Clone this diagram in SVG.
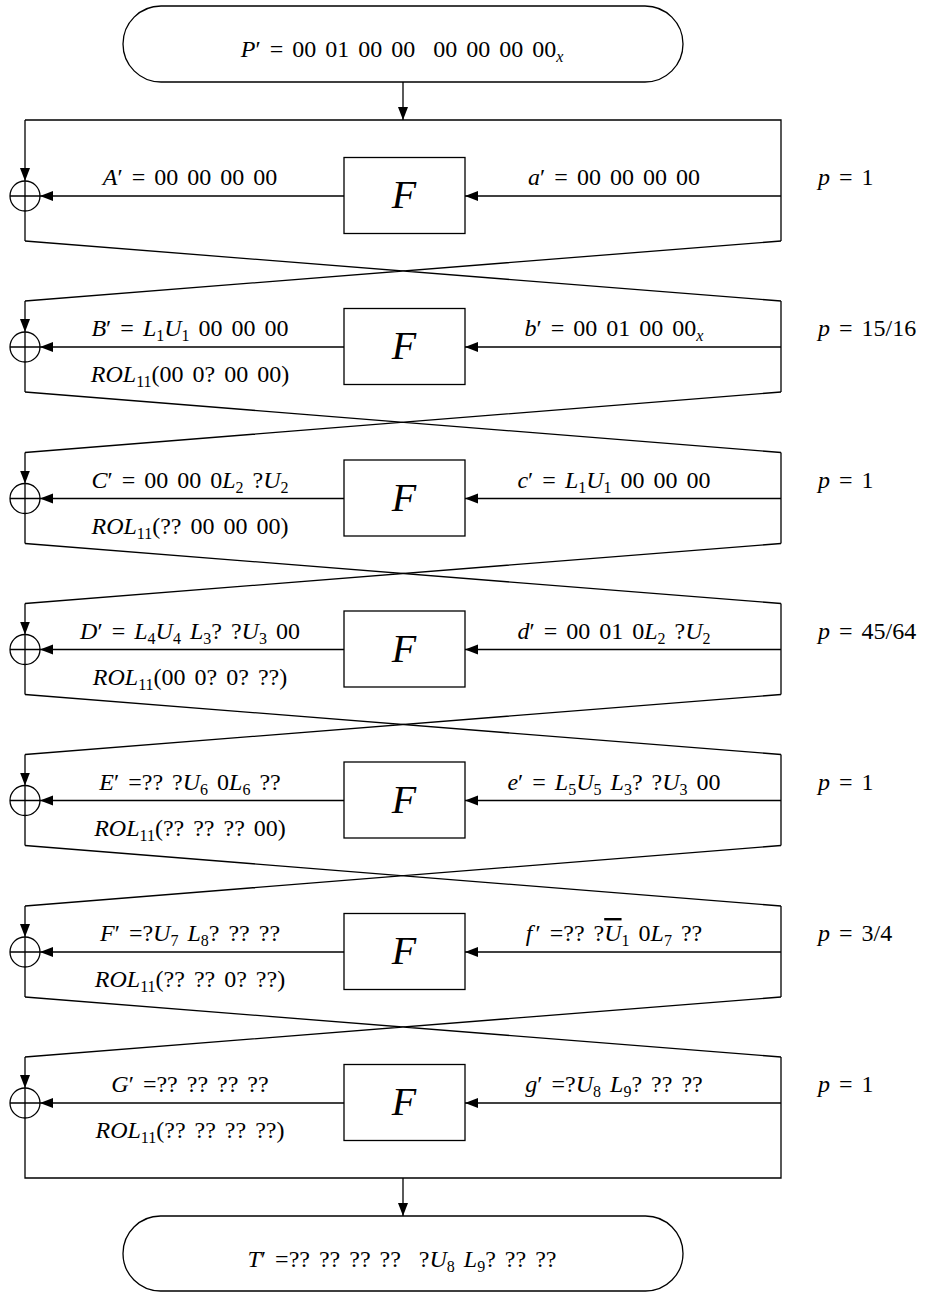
<svg xmlns="http://www.w3.org/2000/svg" width="931" height="1293" viewBox="0 0 931 1293">
<style>
.t{font-family:"Liberation Serif","DejaVu Serif",serif;font-size:24px;fill:#000;word-spacing:3px}
.m{text-anchor:middle}
.i{font-style:italic}
.s{font-size:16px}
.ln{fill:none;stroke:#000;stroke-width:1.3}
.ar{fill:none;stroke:#000;stroke-width:1.3;marker-end:url(#ah)}
.box{fill:#fff;stroke:#000;stroke-width:1.3}
.F{font-family:"Liberation Serif","DejaVu Serif",serif;font-size:40px;font-style:italic;text-anchor:middle}
</style>
<defs>
<marker id="ah" markerUnits="userSpaceOnUse" markerWidth="14" markerHeight="11" refX="13" refY="5" orient="auto">
<path d="M0,0 L13,5 L0,10 z" fill="#000"/>
</marker>
</defs>

<g id="connectors">
<path class="ar" d="M403,82 V120"/>
<path class="ln" d="M781,241 V120 H25"/>
<path class="ar" d="M25,120 V181"/>
<path class="ln" d="M25,211 V241"/>
<path class="ar" d="M781,196 H465"/>
<path class="ar" d="M344,196 H40"/>
<path class="ln" d="M25,241 L781,301 M781,241 L25,301"/>

<path class="ar" d="M25,301 V332"/>
<path class="ln" d="M25,362 V392 M781,301 V392"/>
<path class="ar" d="M781,347 H465"/>
<path class="ar" d="M344,347 H40"/>
<path class="ln" d="M25,392 L781,452.5 M781,392 L25,452.5"/>

<path class="ar" d="M25,452.5 V483.5"/>
<path class="ln" d="M25,513.5 V543.5 M781,452.5 V543.5"/>
<path class="ar" d="M781,498.5 H465"/>
<path class="ar" d="M344,498.5 H40"/>
<path class="ln" d="M25,543.5 L781,603.5 M781,543.5 L25,603.5"/>

<path class="ar" d="M25,603.5 V634.5"/>
<path class="ln" d="M25,664.5 V694.5 M781,603.5 V694.5"/>
<path class="ar" d="M781,649.5 H465"/>
<path class="ar" d="M344,649.5 H40"/>
<path class="ln" d="M25,694.5 L781,754.5 M781,694.5 L25,754.5"/>

<path class="ar" d="M25,754.5 V785.5"/>
<path class="ln" d="M25,815.5 V845.5 M781,754.5 V845.5"/>
<path class="ar" d="M781,800.5 H465"/>
<path class="ar" d="M344,800.5 H40"/>
<path class="ln" d="M25,845.5 L781,906 M781,845.5 L25,906"/>

<path class="ar" d="M25,906 V937"/>
<path class="ln" d="M25,967 V997 M781,906 V997"/>
<path class="ar" d="M781,952 H465"/>
<path class="ar" d="M344,952 H40"/>
<path class="ln" d="M25,997 L781,1057 M781,997 L25,1057"/>

<path class="ar" d="M25,1057 V1088"/>
<path class="ln" d="M25,1118 V1178 H781 V1057"/>
<path class="ar" d="M781,1103 H465"/>
<path class="ar" d="M344,1103 H40"/>
<path class="ar" d="M403,1178 V1216"/>
</g>

<g id="start">
<rect x="123" y="6" width="560" height="76" rx="38" ry="38" class="box"/>
<text x="402" y="57" class="t m" style="white-space:pre"><tspan class="i">P</tspan>′ = 00 01 00 00  00 00 00 00<tspan class="s i" dy="5">x</tspan></text>
</g>

<g id="round1">
<circle cx="25" cy="196" r="15" class="ln"/><path class="ln" d="M10,196 H40 M25,181 V211"/>
<rect x="344" y="157.5" width="121" height="76" class="box"/>
<text x="404" y="208" class="F">F</text>
<text x="190" y="185" class="t m"><tspan class="i">A</tspan>′ = 00 00 00 00</text>
<text x="614" y="185" class="t m"><tspan class="i">a</tspan>′ = 00 00 00 00</text>
<text x="818" y="185" class="t"><tspan class="i">p</tspan> = 1</text>
</g>

<g id="round2">
<circle cx="25" cy="347" r="15" class="ln"/><path class="ln" d="M10,347 H40 M25,332 V362"/>
<rect x="344" y="308.5" width="121" height="76" class="box"/>
<text x="404" y="359" class="F">F</text>
<text x="190" y="336" class="t m"><tspan class="i">B</tspan>′ = <tspan class="i">L</tspan><tspan class="s" dy="5">1</tspan><tspan class="i" dy="-5">U</tspan><tspan class="s" dy="5">1</tspan><tspan dy="-5"> 00 00 00</tspan></text>
<text x="190" y="382" class="t m"><tspan class="i">ROL</tspan><tspan class="s" dy="5">11</tspan><tspan dy="-5">(00 0? 00 00)</tspan></text>
<text x="614" y="336" class="t m"><tspan class="i">b</tspan>′ = 00 01 00 00<tspan class="s i" dy="5">x</tspan></text>
<text x="818" y="336" class="t"><tspan class="i">p</tspan> = 15/16</text>
</g>

<g id="round3">
<circle cx="25" cy="498.5" r="15" class="ln"/><path class="ln" d="M10,498.5 H40 M25,483.5 V513.5"/>
<rect x="344" y="460" width="121" height="76" class="box"/>
<text x="404" y="510.5" class="F">F</text>
<text x="190" y="487.5" class="t m"><tspan class="i">C</tspan>′ = 00 00 0<tspan class="i">L</tspan><tspan class="s" dy="5">2</tspan><tspan dy="-5"> ?</tspan><tspan class="i">U</tspan><tspan class="s" dy="5">2</tspan></text>
<text x="190" y="533.5" class="t m"><tspan class="i">ROL</tspan><tspan class="s" dy="5">11</tspan><tspan dy="-5">(?? 00 00 00)</tspan></text>
<text x="614" y="487.5" class="t m"><tspan class="i">c</tspan>′ = <tspan class="i">L</tspan><tspan class="s" dy="5">1</tspan><tspan class="i" dy="-5">U</tspan><tspan class="s" dy="5">1</tspan><tspan dy="-5"> 00 00 00</tspan></text>
<text x="818" y="487.5" class="t"><tspan class="i">p</tspan> = 1</text>
</g>

<g id="round4">
<circle cx="25" cy="649.5" r="15" class="ln"/><path class="ln" d="M10,649.5 H40 M25,634.5 V664.5"/>
<rect x="344" y="611" width="121" height="76" class="box"/>
<text x="404" y="661.5" class="F">F</text>
<text x="190" y="638.5" class="t m"><tspan class="i">D</tspan>′ = <tspan class="i">L</tspan><tspan class="s" dy="5">4</tspan><tspan class="i" dy="-5">U</tspan><tspan class="s" dy="5">4</tspan><tspan class="i" dy="-5"> L</tspan><tspan class="s" dy="5">3</tspan><tspan dy="-5">? ?</tspan><tspan class="i">U</tspan><tspan class="s" dy="5">3</tspan><tspan dy="-5"> 00</tspan></text>
<text x="190" y="684.5" class="t m"><tspan class="i">ROL</tspan><tspan class="s" dy="5">11</tspan><tspan dy="-5">(00 0? 0? ??)</tspan></text>
<text x="614" y="638.5" class="t m"><tspan class="i">d</tspan>′ = 00 01 0<tspan class="i">L</tspan><tspan class="s" dy="5">2</tspan><tspan dy="-5"> ?</tspan><tspan class="i">U</tspan><tspan class="s" dy="5">2</tspan></text>
<text x="818" y="638.5" class="t"><tspan class="i">p</tspan> = 45/64</text>
</g>

<g id="round5">
<circle cx="25" cy="800.5" r="15" class="ln"/><path class="ln" d="M10,800.5 H40 M25,785.5 V815.5"/>
<rect x="344" y="762" width="121" height="76" class="box"/>
<text x="404" y="812.5" class="F">F</text>
<text x="190" y="789.5" class="t m"><tspan class="i">E</tspan>′ =?? ?<tspan class="i">U</tspan><tspan class="s" dy="5">6</tspan><tspan dy="-5"> 0</tspan><tspan class="i">L</tspan><tspan class="s" dy="5">6</tspan><tspan dy="-5"> ??</tspan></text>
<text x="190" y="835.5" class="t m"><tspan class="i">ROL</tspan><tspan class="s" dy="5">11</tspan><tspan dy="-5">(?? ?? ?? 00)</tspan></text>
<text x="614" y="789.5" class="t m"><tspan class="i">e</tspan>′ = <tspan class="i">L</tspan><tspan class="s" dy="5">5</tspan><tspan class="i" dy="-5">U</tspan><tspan class="s" dy="5">5</tspan><tspan class="i" dy="-5"> L</tspan><tspan class="s" dy="5">3</tspan><tspan dy="-5">? ?</tspan><tspan class="i">U</tspan><tspan class="s" dy="5">3</tspan><tspan dy="-5"> 00</tspan></text>
<text x="818" y="789.5" class="t"><tspan class="i">p</tspan> = 1</text>
</g>

<g id="round6">
<circle cx="25" cy="952" r="15" class="ln"/><path class="ln" d="M10,952 H40 M25,937 V967"/>
<rect x="344" y="913.5" width="121" height="76" class="box"/>
<text x="404" y="964" class="F">F</text>
<text x="190" y="941" class="t m"><tspan class="i">F</tspan>′ =?<tspan class="i">U</tspan><tspan class="s" dy="5">7</tspan><tspan class="i" dy="-5"> L</tspan><tspan class="s" dy="5">8</tspan><tspan dy="-5">? ?? ??</tspan></text>
<text x="190" y="987" class="t m"><tspan class="i">ROL</tspan><tspan class="s" dy="5">11</tspan><tspan dy="-5">(?? ?? 0? ??)</tspan></text>
<text x="614" y="941" class="t m"><tspan class="i">f</tspan><tspan dx="3">′ =?? ?</tspan><tspan class="i" style="text-decoration:overline">U</tspan><tspan class="s" dy="5">1</tspan><tspan dy="-5"> 0</tspan><tspan class="i">L</tspan><tspan class="s" dy="5">7</tspan><tspan dy="-5"> ??</tspan></text>
<text x="818" y="941" class="t"><tspan class="i">p</tspan> = 3/4</text>
</g>

<g id="round7">
<circle cx="25" cy="1103" r="15" class="ln"/><path class="ln" d="M10,1103 H40 M25,1088 V1118"/>
<rect x="344" y="1064.5" width="121" height="76" class="box"/>
<text x="404" y="1115" class="F">F</text>
<text x="190" y="1092" class="t m"><tspan class="i">G</tspan>′ =?? ?? ?? ??</text>
<text x="190" y="1138" class="t m"><tspan class="i">ROL</tspan><tspan class="s" dy="5">11</tspan><tspan dy="-5">(?? ?? ?? ??)</tspan></text>
<text x="614" y="1092" class="t m"><tspan class="i">g</tspan>′ =?<tspan class="i">U</tspan><tspan class="s" dy="5">8</tspan><tspan class="i" dy="-5"> L</tspan><tspan class="s" dy="5">9</tspan><tspan dy="-5">? ?? ??</tspan></text>
<text x="818" y="1092" class="t"><tspan class="i">p</tspan> = 1</text>
</g>

<g id="end">
<rect x="123" y="1216" width="560" height="75" rx="37.5" ry="37.5" class="box"/>
<text x="402" y="1267" class="t m" style="white-space:pre"><tspan class="i">T</tspan>′ =?? ?? ?? ??  ?<tspan class="i">U</tspan><tspan class="s" dy="5">8</tspan><tspan class="i" dy="-5"> L</tspan><tspan class="s" dy="5">9</tspan><tspan dy="-5">? ?? ??</tspan></text>
</g>
</svg>
